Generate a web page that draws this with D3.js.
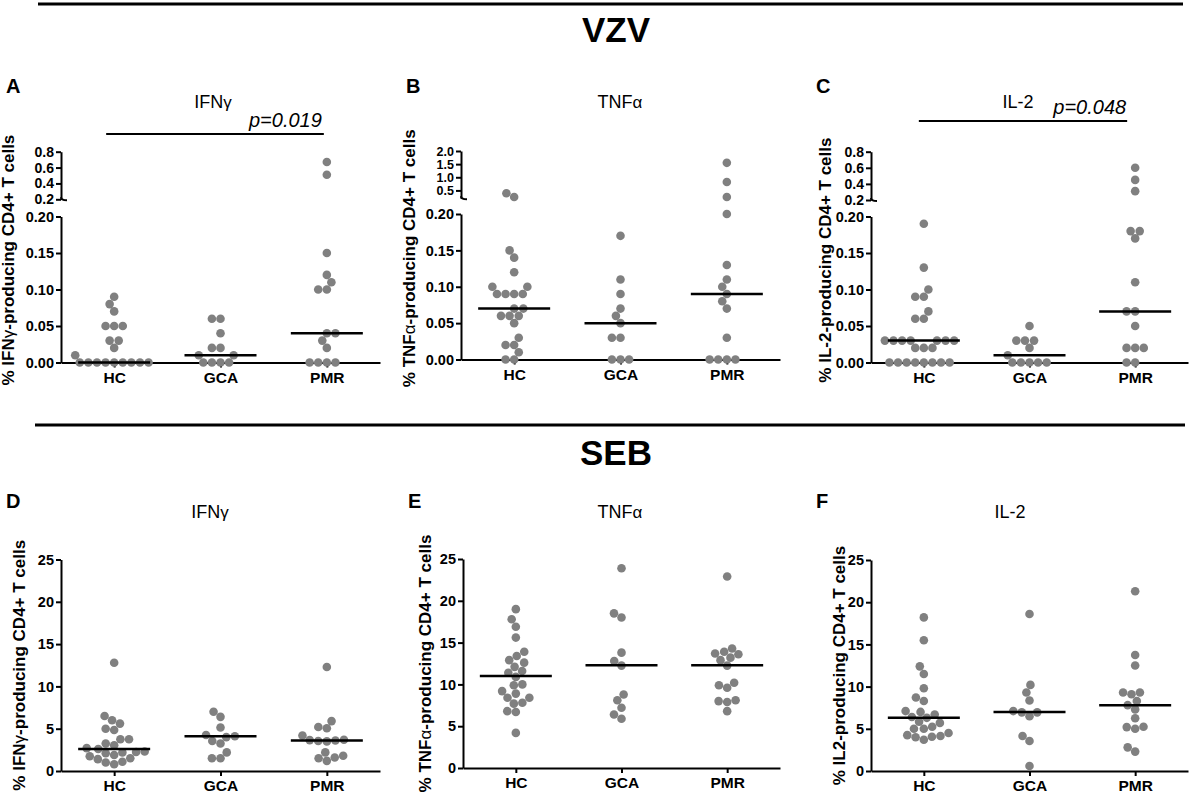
<!DOCTYPE html>
<html>
<head>
<meta charset="utf-8">
<script src="https://cdnjs.cloudflare.com/ajax/libs/d3/7.8.5/d3.min.js"></script>
<style>
  body { margin: 0; background: #fff; }
  svg { display: block; }
  text { font-family: "Liberation Sans", Arial, Helvetica, sans-serif; }
</style>
</head>
<body>
<svg id="chart"></svg>
<script>
// ---- data ----
const groups = ['HC', 'GCA', 'PMR']

// VZV
const vzvIfngHC = [0.09, 0.08, 0.07, 0.05, 0.05, 0.05, 0.03, 0.03, 0.02, 0.01, 0, 0, 0, 0, 0, 0, 0, 0, 0]
const vzvIfngGCA = [0.06, 0.06, 0.04, 0.02, 0.02, 0.01, 0.01, 0, 0, 0, 0]
const vzvIfngPMR = [0.67, 0.51, 0.15, 0.12, 0.11, 0.10, 0.10, 0.04, 0.04, 0.03, 0.02, 0, 0, 0, 0]
const vzvIfngMedian = [0, 0.01, 0.04]

const vzvTnfHC = [0.39, 0.25, 0.15, 0.14, 0.12, 0.10, 0.10, 0.09, 0.09, 0.09, 0.09, 0.07, 0.07,
  0.06, 0.06, 0.06, 0.05, 0.03, 0.02, 0.02, 0.01, 0, 0]
const vzvTnfGCA = [0.17, 0.11, 0.09, 0.07, 0.06, 0.05, 0.03, 0.03, 0, 0, 0]
const vzvTnfPMR = [1.55, 0.82, 0.25, 0.20, 0.13, 0.11, 0.10, 0.09, 0.08, 0.07, 0.03, 0, 0, 0, 0]
const vzvTnfMedian = [0.07, 0.05, 0.09]

const vzvIl2HC = [0.19, 0.13, 0.10, 0.09, 0.09, 0.07, 0.06, 0.06, 0.03, 0.03, 0.03, 0.03, 0.03,
  0.03, 0.03, 0.02, 0.02, 0.02, 0, 0, 0, 0, 0, 0, 0, 0]
const vzvIl2GCA = [0.05, 0.03, 0.03, 0.03, 0.02, 0.01, 0, 0, 0, 0, 0]
const vzvIl2PMR = [0.60, 0.45, 0.31, 0.18, 0.18, 0.17, 0.11, 0.07, 0.07, 0.05, 0.02, 0.02, 0.02, 0, 0]
const vzvIl2Median = [0.03, 0.01, 0.07]

// SEB
const sebIfngHC = [12.8, 6.5, 6.0, 5.6, 5.0, 4.85, 3.75, 3.75, 3.25, 3.05, 2.7, 2.6, 2.3, 2.25,
  2.2, 2.1, 1.9, 1.75, 1.5, 1.4, 1.1, 1.0, 0.8]
const sebIfngGCA = [7.0, 6.4, 5.15, 4.25, 4.1, 4.0, 3.55, 3.25, 2.2, 1.5, 1.5]
const sebIfngPMR = [12.3, 5.9, 5.2, 5.05, 4.2, 3.7, 3.65, 3.6, 3.55, 3.5, 2.2, 1.8, 1.6, 1.5, 1.2]
const sebIfngMedian = [2.6, 4.1, 3.6]

const sebTnfHC = [19.0, 17.8, 16.9, 15.6, 13.9, 13.4, 12.9, 12.6, 12.1, 11.6, 11.4, 10.9, 10.0,
  9.9, 9.2, 8.9, 8.4, 8.4, 7.8, 7.7, 6.8, 6.7, 4.2]
const sebTnfGCA = [23.9, 18.5, 18.0, 13.8, 12.8, 12.25, 8.8, 8.1, 7.2, 6.4, 5.9]
const sebTnfPMR = [22.9, 14.3, 13.9, 13.7, 13.6, 13.2, 12.9, 12.25, 10.2, 9.9, 9.6, 8.1, 8.0, 7.9, 6.8]
const sebTnfMedian = [11.0, 12.3, 12.3]

const sebIl2HC = [18.2, 15.5, 12.4, 11.5, 9.8, 8.7, 8.3, 7.1, 7.0, 6.7, 6.4, 6.3, 5.85, 5.7,
  5.25, 5.0, 5.0, 4.5, 4.25, 4.15, 4.05, 4.0, 3.7]
const sebIl2GCA = [18.6, 10.2, 9.3, 8.35, 7.1, 6.95, 6.95, 6.5, 4.15, 3.55, 0.6]
const sebIl2PMR = [21.3, 13.75, 12.5, 9.3, 9.3, 9.1, 8.3, 7.8, 7.3, 6.25, 5.25, 5.2, 5.0, 2.8, 2.3]
const sebIl2Median = [6.3, 7.0, 7.8]

// tick values
const vzvLowTicks = [0, 0.05, 0.10, 0.15, 0.20]
const ifngUpTicks = [0.2, 0.4, 0.6, 0.8]
const tnfUpTicks = [0.5, 1.0, 1.5, 2.0]
const il2UpTicks = [0.2, 0.4, 0.6, 0.8]
const sebTicks = [0, 5, 10, 15, 20, 25]

// ---- layout ----
const width = 1192
const height = 797
const r = 4.3
const medianHalf = 36
const font = '"Liberation Sans", Arial, Helvetica, sans-serif'

const panels = [
  { letter: 'A', top: true, ax: 61, aEnd: 380, y0: 362.5, yBreak: 216.5, uBot: 199.3, uTop: 151.7,
    upDomain: [0.2, 0.8], upTicks: ifngUpTicks, upFont: 14, title: ['IFN', 'γ'], titleX: 213, labDx: -47,
    ylab: ['% IFN', 'γ', '-producing CD4+ T cells'],
    series: [vzvIfngHC, vzvIfngGCA, vzvIfngPMR], medians: vzvIfngMedian,
    p: { text: 'p=0.019', y: 134, x0: -8, x1: -3, tx: -5, ty: 127 } },
  { letter: 'B', top: true, ax: 461, aEnd: 780, y0: 359.5, yBreak: 214, uBot: 198.3, uTop: 151,
    upDomain: [0.2, 2.0], upTicks: tnfUpTicks, upFont: 12.5, title: ['TNF', 'α'], titleX: 620, labDx: -46,
    ylab: ['% TNF', 'α', '-producing CD4+ T cells'],
    series: [vzvTnfHC, vzvTnfGCA, vzvTnfPMR], medians: vzvTnfMedian },
  { letter: 'C', top: true, ax: 871, aEnd: 1188, y0: 362.5, yBreak: 216.5, uBot: 200, uTop: 151.7,
    upDomain: [0.2, 0.8], upTicks: il2UpTicks, upFont: 14, title: ['IL-2', ''], titleX: 1018, labDx: -40,
    ylab: ['% IL-2-producing CD4+ T cells', '', ''],
    series: [vzvIl2HC, vzvIl2GCA, vzvIl2PMR], medians: vzvIl2Median,
    p: { text: 'p=0.048', y: 121, x0: -5, x1: -8, tx: -9, ty: 114 } },
  { letter: 'D', top: false, ax: 61, aEnd: 380, y0: 771, yTop: 559.5,
    title: ['IFN', 'γ'], titleX: 210, labDx: -36,
    ylab: ['% IFN', 'γ', '-producing CD4+ T cells'],
    series: [sebIfngHC, sebIfngGCA, sebIfngPMR], medians: sebIfngMedian },
  { letter: 'E', top: false, ax: 463, aEnd: 780, y0: 768, yTop: 559,
    title: ['TNF', 'α'], titleX: 620, labDx: -32,
    ylab: ['% TNF', 'α', '-producing CD4+ T cells'],
    series: [sebTnfHC, sebTnfGCA, sebTnfPMR], medians: sebTnfMedian },
  { letter: 'F', top: false, ax: 871, aEnd: 1188, y0: 771, yTop: 560,
    title: ['IL-2', ''], titleX: 1010, labDx: -26,
    ylab: ['% IL2-producing CD4+ T cells', '', ''],
    series: [sebIl2HC, sebIl2GCA, sebIl2PMR], medians: sebIl2Median }
]

const svg = d3.select('#chart')
    .attr('width', width)
    .attr('height', height)

svg.append('rect')
    .attr('width', width)
    .attr('height', height)
    .attr('fill', '#fff')

// section headers
const headers = [
  { text: 'VZV', lineY: 4, x0: 38, x1: 1183, ty: 42 },
  { text: 'SEB', lineY: 425, x0: 35, x1: 1185, ty: 465 }
]
headers.forEach(h => {
  svg.append('line')
      .attr('x1', h.x0).attr('x2', h.x1)
      .attr('y1', h.lineY).attr('y2', h.lineY)
      .attr('stroke', '#000')
      .attr('stroke-width', 3)
  svg.append('text')
      .text(h.text)
      .attr('x', 616)
      .attr('y', h.ty)
      .attr('text-anchor', 'middle')
      .attr('font-size', 35)
      .attr('font-weight', 'bold')
})

// simple beeswarm: nearest free slot to the category centre
function swarm(values, yOf) {
  const d = 2 * r
  const pts = values.map(v => ({ v, y: yOf(v), x: 0 }))
  const order = pts.slice().sort((a, b) => b.y - a.y)
  const placed = []
  order.forEach(p => {
    const near = placed.filter(q => Math.abs(q.y - p.y) < d)
    const cands = [0]
    near.forEach(q => {
      const dx = Math.sqrt(d * d - (q.y - p.y) ** 2)
      cands.push(q.x + dx, q.x - dx)
    })
    cands.sort((a, b) => Math.abs(a) - Math.abs(b) || a - b)
    for (const c of cands) {
      if (near.every(q => (q.x - c) ** 2 + (q.y - p.y) ** 2 >= d * d - 0.01)) { p.x = c; break }
    }
    placed.push(p)
  })
  return pts
}

function styleAxis(g) {
  g.select('.domain').attr('stroke-width', 2)
  g.selectAll('.tick line').attr('stroke-width', 2)
  g.selectAll('.tick text')
      .attr('fill', '#000')
      .attr('font-weight', 'bold')
      .attr('font-family', font)
}

panels.forEach(p => {
  const g = svg.append('g')

  const xScale = d3.scalePoint()
      .domain(groups)
      .range([p.ax, p.aEnd])
      .padding(0.5)

  let yOf
  if (p.top) {
    const lowScale = d3.scaleLinear().domain([0, 0.2]).range([p.y0, p.yBreak])
    const upScale = d3.scaleLinear().domain(p.upDomain).range([p.uBot, p.uTop])
    yOf = v => v > 0.2 ? upScale(v) : lowScale(v)

    g.append('g')
        .attr('transform', `translate(${p.ax},0)`)
        .call(d3.axisLeft(lowScale).tickValues(vzvLowTicks)
            .tickFormat(d3.format('.2f')).tickSize(5).tickSizeOuter(0).tickPadding(2))
        .attr('font-size', 14.5)
        .call(styleAxis)

    g.append('g')
        .attr('transform', `translate(${p.ax},0)`)
        .call(d3.axisLeft(upScale).tickValues(p.upTicks)
            .tickFormat(d3.format('.1f')).tickSize(5).tickSizeOuter(0).tickPadding(2))
        .attr('font-size', p.upFont)
        .call(styleAxis)

    // break hook at the foot of the upper segment
    g.append('path')
        .attr('d', `M${p.ax},${p.uBot - 2}Q${p.ax},${p.uBot + 1} ${p.ax + 6},${p.uBot + 1}`)
        .attr('fill', 'none')
        .attr('stroke', '#000')
        .attr('stroke-width', 2)
  } else {
    const yScale = d3.scaleLinear().domain([0, 25]).range([p.y0, p.yTop])
    yOf = yScale
    g.append('g')
        .attr('transform', `translate(${p.ax},0)`)
        .call(d3.axisLeft(yScale).tickValues(sebTicks)
            .tickSize(5).tickSizeOuter(0).tickPadding(2))
        .attr('font-size', 14.5)
        .call(styleAxis)
  }

  // x axis
  g.append('g')
      .attr('transform', `translate(0,${p.y0})`)
      .call(d3.axisBottom(xScale).tickSize(5).tickSizeOuter(0).tickPadding(4))
      .attr('font-size', 15.5)
      .call(styleAxis)

  // dots
  p.series.forEach((vals, i) => {
    const cx = xScale(groups[i])
    g.append('g')
        .selectAll('circle')
        .data(swarm(vals, yOf))
        .join('circle')
        .attr('cx', d => cx + d.x)
        .attr('cy', d => d.y)
        .attr('r', r)
        .attr('fill', '#808080')
  })

  // medians
  g.append('g')
      .selectAll('line')
      .data(p.medians)
      .join('line')
      .attr('x1', (d, i) => xScale(groups[i]) - medianHalf)
      .attr('x2', (d, i) => xScale(groups[i]) + medianHalf)
      .attr('y1', d => yOf(d))
      .attr('y2', d => yOf(d))
      .attr('stroke', '#000')
      .attr('stroke-width', 2.5)

  // panel letter and title
  g.append('text')
      .text(p.letter)
      .attr('x', p.ax - 55)
      .attr('y', p.top ? 93 : 508)
      .attr('font-size', 20)
      .attr('font-weight', 'bold')

  const title = g.append('text')
      .attr('x', p.titleX)
      .attr('y', p.top ? 108 : 518)
      .attr('text-anchor', 'middle')
      .attr('font-size', 18)
  title.append('tspan').text(p.title[0])
  if (p.title[1]) title.append('tspan').text(p.title[1]).attr('font-size', 17)

  // y label
  const yMid = p.top ? (p.y0 + p.uTop) / 2 + 3 : (p.y0 + p.yTop) / 2
  const lab = g.append('text')
      .attr('transform', `translate(${p.ax + p.labDx},${yMid}) rotate(-90)`)
      .attr('text-anchor', 'middle')
      .attr('font-size', 17)
      .attr('font-weight', 'bold')
  lab.append('tspan').text(p.ylab[0])
  if (p.ylab[1]) lab.append('tspan').text(p.ylab[1]).attr('font-weight', 'normal')
  if (p.ylab[2]) lab.append('tspan').text(p.ylab[2])

  // significance bar
  if (p.p) {
    g.append('line')
        .attr('x1', xScale('HC') + p.p.x0)
        .attr('x2', xScale('PMR') + p.p.x1)
        .attr('y1', p.p.y)
        .attr('y2', p.p.y)
        .attr('stroke', '#000')
        .attr('stroke-width', 2)
    g.append('text')
        .text(p.p.text)
        .attr('x', xScale('PMR') + p.p.tx)
        .attr('y', p.p.ty)
        .attr('text-anchor', 'end')
        .attr('font-size', 20)
        .attr('font-style', 'italic')
  }
})
</script>
</body>
</html>
